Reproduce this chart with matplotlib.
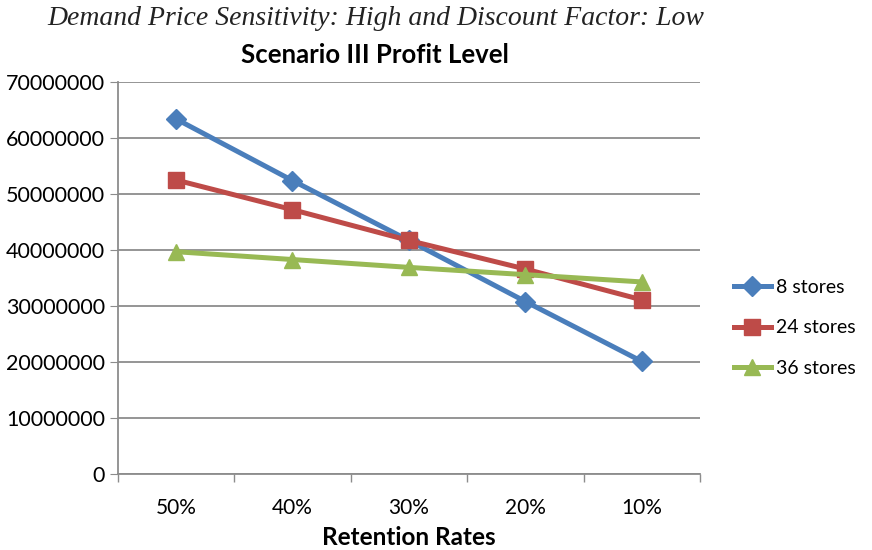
import numpy as np
import matplotlib
matplotlib.use("Agg")
import matplotlib.pyplot as plt

# Profit levels by retention rate for each store count
retention = ["50%", "40%", "30%", "20%", "10%"]
stores_8 = [63400000, 52400000, 41700000, 30800000, 20100000]
stores_24 = [52500000, 47200000, 41700000, 36600000, 31100000]
stores_36 = [39700000, 38300000, 36900000, 35600000, 34300000]

series = [
    ("8 stores", stores_8, "#4A7EBB", "D", 10.5),
    ("24 stores", stores_24, "#BE4B48", "s", 12),
    ("36 stores", stores_36, "#98B954", "^", 12),
]

plt.rcParams["font.family"] = ["Lato", "DejaVu Sans"]

fig = plt.figure(figsize=(8.72, 5.5), dpi=100)
ax = fig.add_axes([0.135, 0.138, 0.668, 0.713])

x = np.arange(len(retention))
for name, vals, color, marker, ms in series:
    ax.plot(x, vals, color=color, lw=3.6, marker=marker, ms=ms, label=name)

ax.set_xlim(-0.5, len(retention) - 0.5)
ax.set_ylim(0, 70000000)
ax.set_yticks(np.arange(0, 70000001, 10000000))
ax.yaxis.set_major_formatter(matplotlib.ticker.FuncFormatter(lambda v, p: f"{int(v)}"))
ax.set_xticks(x)
ax.set_xticklabels(retention)
# boundary tick marks between categories
ax.set_xticks(np.arange(-0.5, len(retention)), minor=True)
ax.tick_params(axis="x", which="major", length=0, labelsize=15, pad=17)
ax.tick_params(axis="x", which="minor", length=6, color="#8c8c8c", width=1)
ax.tick_params(axis="y", length=6, color="#8c8c8c", labelsize=15.5, pad=3)

ax.grid(axis="y", color="#8c8c8c", lw=1.3)
ax.set_axisbelow(True)
for side in ["top", "right"]:
    ax.spines[side].set_visible(False)
for side in ["left", "bottom"]:
    ax.spines[side].set_color("#8c8c8c")
    ax.spines[side].set_linewidth(1.3)

ax.set_xlabel("Retention Rates", fontsize=17.5, fontweight="bold", labelpad=6)

leg = ax.legend(loc="center left", bbox_to_anchor=(1.058, 0.373), frameon=False,
                fontsize=14, labelspacing=1.2, handlelength=1.9, handletextpad=0.25,
                borderaxespad=0, borderpad=0)

fig.text(0.431, 0.967, "Demand Price Sensitivity: High and Discount Factor: Low",
         family="Liberation Serif", style="italic", fontsize=20, ha="center", va="center",
         color="#222222")
fig.text(0.43, 0.9, "Scenario III Profit Level", fontsize=18.5, fontweight="bold",
         ha="center", va="center")

fig.savefig("out.png", dpi=100)
